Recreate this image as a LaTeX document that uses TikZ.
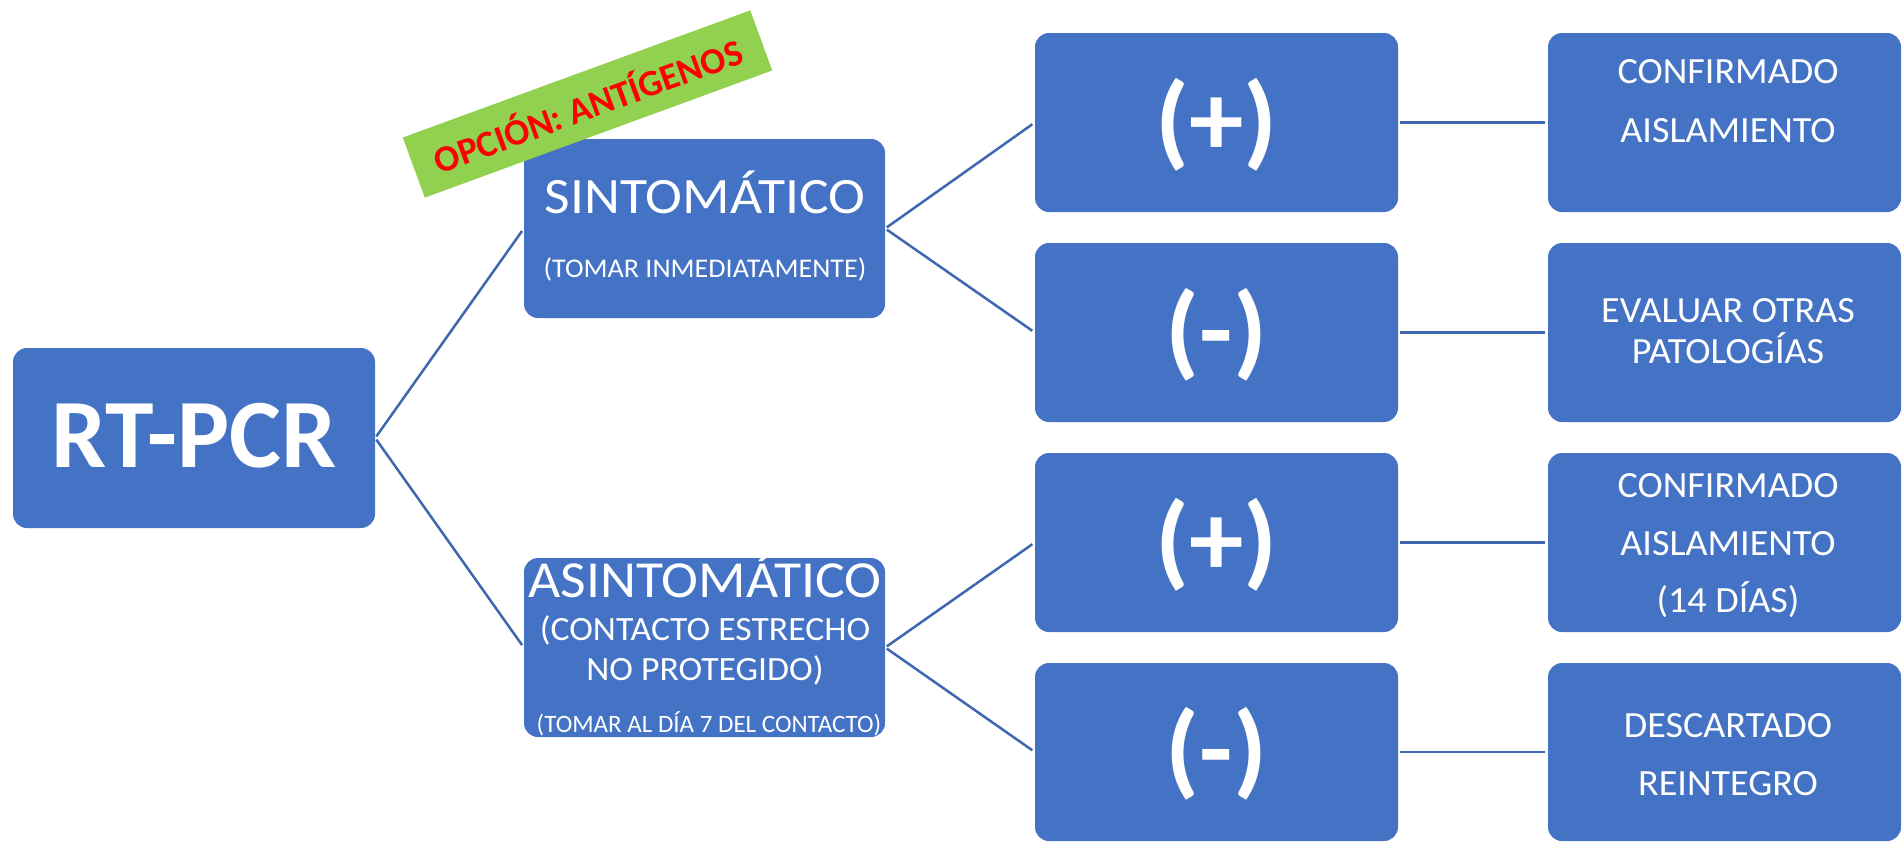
\documentclass[tikz,border=0pt]{standalone}
\usepackage{fontspec}
\setmainfont{Carlito}
\definecolor{boxblue}{HTML}{4472C4}
\definecolor{lineblue}{HTML}{3F66AE}
\definecolor{labelgreen}{HTML}{92D050}
\definecolor{labelred}{HTML}{FF0000}
\newcommand{\fs}[1]{\fontsize{#1}{#1}\selectfont}
\newcommand{\hs}[2]{\scalebox{#1}[1]{#2}}
\begin{document}
\begin{tikzpicture}[x=1pt,y=-1pt,
  box/.style={fill=boxblue, rounded corners=14pt, inner sep=0pt, draw=none},
  conn/.style={draw=lineblue, line width=2.5pt, shorten <=2pt, shorten >=3pt},
  txt/.style={text=white, inner sep=0pt, anchor=base}]
\useasboundingbox (0,0) rectangle (1902,841);

\node[box, minimum width=362pt, minimum height=180pt] (rt) at (194,438) {};
\node[box, minimum width=361pt, minimum height=179pt] (sin) at (704.5,228.5) {};
\node[box, minimum width=361pt, minimum height=179pt] (asin) at (704.5,647.5) {};
\node[box, minimum width=363pt, minimum height=179pt] (p1) at (1216.5,122.5) {};
\node[box, minimum width=363pt, minimum height=179pt] (n1) at (1216.5,332.5) {};
\node[box, minimum width=363pt, minimum height=179pt] (p2) at (1216.5,542.5) {};
\node[box, minimum width=363pt, minimum height=178pt] (n2) at (1216.5,752) {};
\node[box, minimum width=353pt, minimum height=179pt] (r1) at (1724.5,122.5) {};
\node[box, minimum width=353pt, minimum height=179pt] (r2) at (1724.5,332.5) {};
\node[box, minimum width=353pt, minimum height=179pt] (r3) at (1724.5,542.5) {};
\node[box, minimum width=353pt, minimum height=178pt] (r4) at (1724.5,752) {};

\draw[conn] (rt.east) -- (sin.west);
\draw[conn] (rt.east) -- (asin.west);
\draw[conn] (sin.east) -- (p1.west);
\draw[conn] (sin.east) -- (n1.west);
\draw[conn] (asin.east) -- (p2.west);
\draw[conn] (asin.east) -- (n2.west);
\draw[conn] (p1.east) -- (r1.west);
\draw[conn] (n1.east) -- (r2.west);
\draw[conn] (p2.east) -- (r3.west);
\draw[conn] (n2.east) -- (r4.west);

% texts
\node[txt, font=\fs{98}\bfseries] (trt) at (194,467) {RT-PCR};
\node[txt, font=\fs{51}] (ts1) at (705,213) {\hs{1.09}{SINTOMÁTICO}};
\node[txt, font=\fs{27}] (ts2) at (705,277) {\hs{1.04}{(TOMAR INMEDIATAMENTE)}};
\node[txt, font=\fs{52}] (ta1) at (705,597) {\hs{1.07}{ASINTOMÁTICO}};
\node[txt, font=\fs{34}] (ta2) at (705,640) {\hs{1.05}{(CONTACTO ESTRECHO}};
\node[txt, font=\fs{34}] (ta3) at (705,680) {\hs{1.05}{NO PROTEGIDO)}};
\node[txt, font=\fs{25}] (ta4) at (709,732) {(TOMAR AL DÍA 7 DEL CONTACTO)};

\node[txt, anchor=center, font=\fs{104}\bfseries] (tp1) at (1216.5,125) {\hs{1.05}{(+)}};
\node[txt, anchor=center, font=\fs{104}\bfseries] (tn1) at (1216.5,334.5) {\hs{1.05}{(-)}};
\node[txt, anchor=center, font=\fs{104}\bfseries] (tp2) at (1216.5,545) {\hs{1.05}{(+)}};
\node[txt, anchor=center, font=\fs{104}\bfseries] (tn2) at (1216.5,754) {\hs{1.05}{(-)}};

\node[txt, font=\fs{37}] (tr1a) at (1728,83) {\hs{1.03}{CONFIRMADO}};
\node[txt, font=\fs{37}] (tr1b) at (1728,142) {\hs{1.03}{AISLAMIENTO}};
\node[txt, font=\fs{37}] (tr2a) at (1728,322) {\hs{1.03}{EVALUAR OTRAS}};
\node[txt, font=\fs{37}] (tr2b) at (1728,363) {\hs{1.03}{PATOLOGÍAS}};
\node[txt, font=\fs{37}] (tr3a) at (1728,497) {\hs{1.03}{CONFIRMADO}};
\node[txt, font=\fs{37}] (tr3b) at (1728,555) {\hs{1.03}{AISLAMIENTO}};
\node[txt, font=\fs{37}] (tr3c) at (1728,612) {\hs{1.03}{(14 DÍAS)}};
\node[txt, font=\fs{37}] (tr4a) at (1728,737) {\hs{1.03}{DESCARTADO}};
\node[txt, font=\fs{37}] (tr4b) at (1728,795) {\hs{1.03}{REINTEGRO}};

% green label
\node[fill=labelgreen, rotate=20.1, minimum width=370pt, minimum height=64pt,
      inner sep=0pt, text=labelred, font=\fs{37}\bfseries] (opt) at (587.5,104) {OPCIÓN: ANTÍGENOS};
\end{tikzpicture}
\end{document}
